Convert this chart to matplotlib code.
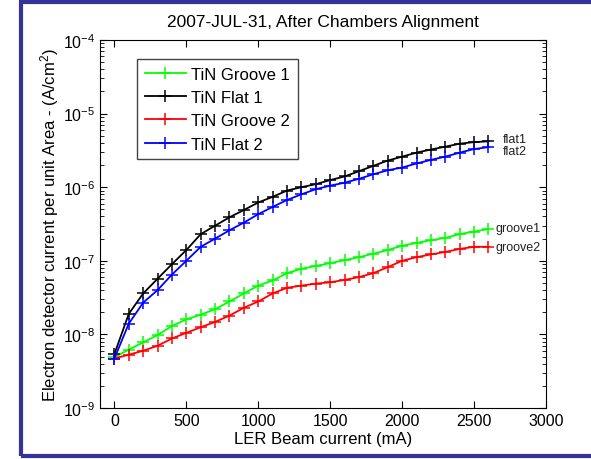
import numpy as np
import matplotlib
matplotlib.use("Agg")
import matplotlib.pyplot as plt
from matplotlib.patches import Rectangle
from matplotlib.ticker import FixedLocator, LogLocator, NullFormatter, FuncFormatter

plt.rcParams['font.family'] = ['Liberation Sans', 'DejaVu Sans']
plt.rcParams['mathtext.fontset'] = 'custom'
plt.rcParams['mathtext.rm'] = 'Liberation Sans'
plt.rcParams['mathtext.default'] = 'rm'

# beam current (mA)
current = [0, 100, 200, 300, 400, 500, 600, 700, 800, 900, 1000, 1100, 1200, 1300,
           1400, 1500, 1600, 1700, 1800, 1900, 2000, 2100, 2200, 2300, 2400, 2500, 2600]

# detector current per unit area (A/cm^2)
groove1 = [4.9e-9, 6.2e-9, 7.8e-9, 9.8e-9, 1.3e-8, 1.6e-8, 1.85e-8, 2.2e-8, 2.8e-8, 3.6e-8,
           4.6e-8, 5.4e-8, 6.8e-8, 7.8e-8, 8.5e-8, 9.3e-8, 1.02e-7, 1.12e-7, 1.25e-7, 1.4e-7,
           1.6e-7, 1.75e-7, 1.9e-7, 2.05e-7, 2.3e-7, 2.5e-7, 2.7e-7]
flat1 = [5.4e-9, 1.9e-8, 3.6e-8, 5.7e-8, 9.0e-8, 1.4e-7, 2.3e-7, 3.0e-7, 3.9e-7, 4.9e-7,
         6.2e-7, 7.4e-7, 9.0e-7, 1.0e-6, 1.1e-6, 1.25e-6, 1.4e-6, 1.65e-6, 1.95e-6, 2.3e-6,
         2.6e-6, 2.95e-6, 3.25e-6, 3.55e-6, 3.9e-6, 4.1e-6, 4.2e-6]
groove2 = [4.7e-9, 5.3e-9, 6.0e-9, 7.0e-9, 8.8e-9, 1.05e-8, 1.25e-8, 1.48e-8, 1.8e-8, 2.3e-8,
           2.8e-8, 3.6e-8, 4.3e-8, 4.6e-8, 4.9e-8, 5.1e-8, 5.5e-8, 6.0e-8, 6.8e-8, 8.2e-8,
           1.0e-7, 1.12e-7, 1.22e-7, 1.32e-7, 1.45e-7, 1.55e-7, 1.55e-7]
flat2 = [4.7e-9, 1.4e-8, 2.7e-8, 4.0e-8, 6.5e-8, 1.0e-7, 1.55e-7, 2.0e-7, 2.6e-7, 3.3e-7,
         4.3e-7, 5.4e-7, 6.7e-7, 8.0e-7, 9.4e-7, 1.05e-6, 1.15e-6, 1.3e-6, 1.5e-6, 1.7e-6,
         1.85e-6, 2.1e-6, 2.35e-6, 2.6e-6, 2.95e-6, 3.3e-6, 3.5e-6]

# (legend name, values, colour, end tag, tag x offset pt, tag y offset pt)
series = [("TiN Groove 1", groove1, "#00ff00", "groove1", 5, 1),
          ("TiN Flat 1", flat1, "#000000", "flat1", 10, 2),
          ("TiN Groove 2", groove2, "#ff0000", "groove2", 5, 0),
          ("TiN Flat 2", flat2, "#0000ff", "flat2", 10, -3)]

x_ticks = [0, 500, 1000, 1500, 2000, 2500, 3000]

fig = plt.figure(figsize=(5.91, 4.60), dpi=100)
ax = fig.add_axes([100 / 591, 1 - 409 / 460, 446 / 591, 368 / 460])

for name, vals, color, tag, dx, dy in series:
    ax.semilogy(current, vals, color=color, marker='+', markersize=8,
                markeredgewidth=1.1, linewidth=1.3, label=name)
    ax.annotate(tag, (current[-1], vals[-1]), xytext=(dx, dy),
                textcoords='offset points', fontsize=9, va='center',
                ha='left', color='#222222')

ax.set_xlim(-100, 3000)
ax.set_ylim(1e-9, 1e-4)
ax.xaxis.set_major_locator(FixedLocator(x_ticks))
ax.yaxis.set_major_locator(LogLocator(base=10, numticks=10))
ax.yaxis.set_minor_locator(LogLocator(base=10, subs=np.arange(2, 10), numticks=10))
ax.yaxis.set_minor_formatter(NullFormatter())
ax.yaxis.set_major_formatter(FuncFormatter(
    lambda v, p: r'$10^{%d}$' % int(round(np.log10(v)))))

ax.tick_params(which='both', direction='in', top=True, right=True)
ax.tick_params(which='major', length=5, labelsize=11.5)
ax.tick_params(which='minor', length=3)

ax.set_xlabel("LER Beam current (mA)", fontsize=12, labelpad=2)
ax.set_ylabel("Electron detector current per unit Area - (A/cm$^2$)",
              fontsize=12, labelpad=1)
ax.set_title("2007-JUL-31, After Chambers Alignment", fontsize=12.5, pad=10)

leg = ax.legend(loc='upper left', bbox_to_anchor=(0.083, 0.948), borderaxespad=0,
                fontsize=12, fancybox=False, edgecolor='#444444', framealpha=1,
                handlelength=2.5, handletextpad=0.3, borderpad=0.45,
                labelspacing=0.5)
leg.get_frame().set_linewidth(1.0)

# frame around the figure
fig.patches.append(Rectangle((21 / 591, 3 / 460), 600 / 591, 454 / 460,
                             transform=fig.transFigure, fill=False,
                             edgecolor='#333399', linewidth=3))

fig.savefig("out.png", dpi=100)
